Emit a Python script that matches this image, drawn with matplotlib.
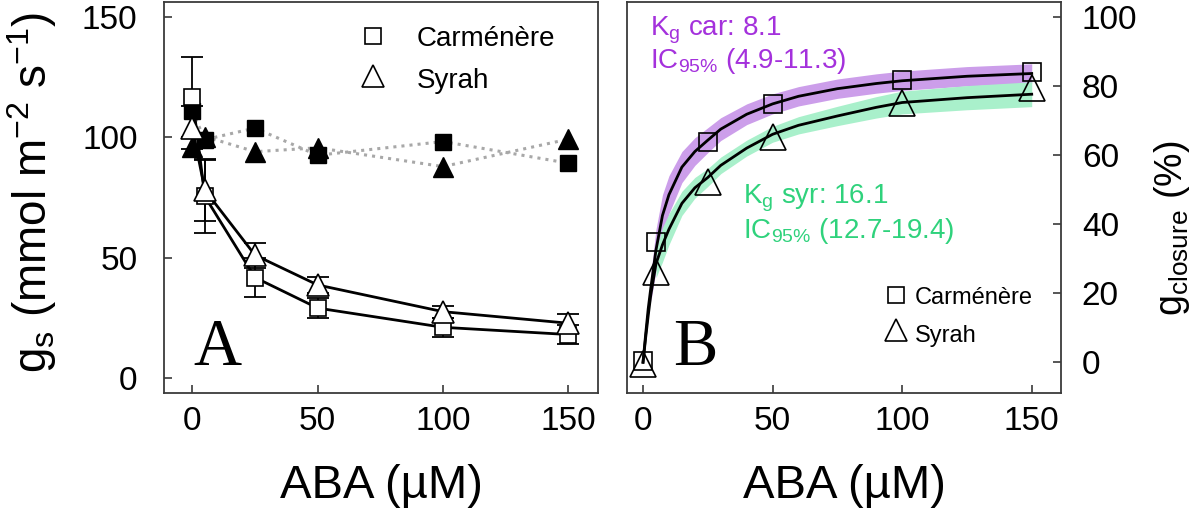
import matplotlib
matplotlib.use('Agg')
import matplotlib.pyplot as plt

plt.rcParams['font.family'] = ['Liberation Sans', 'DejaVu Sans']
plt.rcParams['mathtext.fontset'] = 'custom'
plt.rcParams['mathtext.rm'] = 'Liberation Sans'

# ABA doses (uM)
ABA = [0, 5, 25, 50, 100, 150]

# Panel A: stomatal conductance, ABA treated (open) and control (filled)
CAR_GS = [116.9, 75.4, 41.7, 29.0, 21.0, 18.0]
CAR_GS_ERR = [16.6, 15.3, 8.3, 4.0, 4.0, 4.0]
SYR_GS = [104.0, 78.0, 51.0, 38.6, 27.5, 22.7]
SYR_GS_ERR = [9.0, 13.0, 5.2, 3.4, 2.5, 3.9]
CAR_CTRL = [110.7, 99.0, 103.8, 92.5, 98.2, 89.2]
SYR_CTRL = [96.1, 100.3, 94.0, 95.6, 87.8, 99.2]

# Panel B: stomatal closure (%)
CAR_CLOSE = [0.5, 34.9, 63.8, 74.8, 81.7, 84.1]
SYR_CLOSE = [-0.5, 26.2, 52.3, 65.3, 75.0, 79.3]

# fitted curves
FIT_X = [0, 1, 2, 3, 5, 7.5, 10, 15, 20, 25, 30, 40, 50, 60, 75, 90, 100, 125, 150]
CAR_FIT = [0, 8, 15.5, 21.5, 32.5, 42.5, 48.5, 56.5, 61, 64.3, 67.5, 71.8, 74.8, 77, 79.2, 80.7, 81.5, 82.8, 83.6]
SYR_FIT = [0, 7, 13.5, 19.5, 28.5, 34, 38.5, 46, 50.5, 53.5, 57, 62, 66, 68.6, 71.3, 73.8, 75.2, 76.6, 77.6]
# half width of the 95% bands, starting at FIT_X[3] (car) and FIT_X[4] (syr)
CAR_BAND = [4, 6, 6, 5.5, 4.5, 4, 3.6, 3.3, 3, 2.9, 2.8, 2.8, 2.8, 2.8, 2.8, 2.8]
SYR_BAND = [4, 5, 4.5, 3.5, 3, 2.6, 2.4, 2.3, 2.3, 2.5, 2.8, 3.1, 3.3, 3.5, 3.6]

PURPLE = '#a431dc'
PURPLE_BAND = '#cc9eea'
GREEN = '#2fd27c'
GREEN_BAND = '#a9f0cb'
SPINE = '#3a3a3a'

W, H = 1194, 512
fig = plt.figure(figsize=(W / 100, H / 100), dpi=100)
ax_a = fig.add_axes([164 / W, 1 - 393 / H, 434 / W, 391 / H])
ax_b = fig.add_axes([626.7 / W, 1 - 393 / H, 434.3 / W, 391 / H])

for ax in (ax_a, ax_b):
    for s in ax.spines.values():
        s.set_color(SPINE)
        s.set_linewidth(1.3)
    ax.tick_params(direction='in', length=6, width=1.2, color=SPINE, labelsize=24)
    ax.tick_params(axis='x', pad=9)
    ax.set_xticks([0, 50, 100, 150])

# ---- Panel A ----
ax_a.plot(ABA, CAR_CTRL, ':', color='#a8a8a8', lw=2.2, zorder=1)
ax_a.plot(ABA, SYR_CTRL, ':', color='#a8a8a8', lw=2.2, zorder=1)
ax_a.plot(ABA, CAR_CTRL, 's', color='black', ms=11, zorder=3)
ax_a.plot(ABA, SYR_CTRL, '^', color='black', ms=15, zorder=3)

ax_a.errorbar(ABA, CAR_GS, yerr=CAR_GS_ERR, fmt='none', ecolor='black', elinewidth=1.3, capsize=8, capthick=1.3, zorder=2)
ax_a.errorbar(ABA, SYR_GS, yerr=SYR_GS_ERR, fmt='none', ecolor='black', elinewidth=1.3, capsize=8, capthick=1.3, zorder=2)
ax_a.plot(ABA, CAR_GS, '-', color='black', lw=2, zorder=2)
ax_a.plot(ABA, SYR_GS, '-', color='black', lw=2, zorder=2)
ax_a.plot(ABA, CAR_GS, 's', mfc='white', mec='black', mew=1.2, ms=11.5, zorder=4)
ax_a.plot(ABA, SYR_GS, '^', mfc='white', mec='black', mew=1.2, ms=16, zorder=4)

ax_a.set_xlim(-11.3, 161.8)
ax_a.set_ylim(-6.3, 156.2)
ax_a.set_yticks([0, 50, 100, 150])
ax_a.tick_params(axis='y', pad=19)

# legend A
ax_a.plot([0.481], [0.913], 's', mfc='white', mec='black', mew=1.2, ms=11, transform=ax_a.transAxes, clip_on=False)
ax_a.plot([0.481], [0.811], '^', mfc='white', mec='black', mew=1.2, ms=16, transform=ax_a.transAxes, clip_on=False)
ax_a.text(0.583, 0.888, 'Carménère', fontsize=20, transform=ax_a.transAxes, va='baseline')
ax_a.text(0.583, 0.780, 'Syrah', fontsize=20, transform=ax_a.transAxes, va='baseline')
ax_a.text(0.067, 0.072, 'A', fontsize=48, family='Liberation Serif', transform=ax_a.transAxes, va='baseline')

# ---- Panel B ----
ax_b.fill_between(FIT_X[3:], [y - d for y, d in zip(CAR_FIT[3:], CAR_BAND)],
                  [y + d for y, d in zip(CAR_FIT[3:], CAR_BAND)], color=PURPLE_BAND, lw=0, zorder=1)
ax_b.fill_between(FIT_X[4:], [y - d for y, d in zip(SYR_FIT[4:], SYR_BAND)],
                  [y + d for y, d in zip(SYR_FIT[4:], SYR_BAND)], color=GREEN_BAND, lw=0, zorder=1)
ax_b.plot(FIT_X, CAR_FIT, '-', color='black', lw=2, zorder=2)
ax_b.plot(FIT_X, SYR_FIT, '-', color='black', lw=2, zorder=2)
ax_b.plot(ABA, CAR_CLOSE, 's', mfc='none', mec='black', mew=1.2, ms=12.5, zorder=3)
ax_b.plot(ABA, SYR_CLOSE, '^', mfc='none', mec='black', mew=1.2, ms=19, zorder=3)

ax_b.set_xlim(-6.3, 161.3)
ax_b.set_ylim(-8.9, 104.3)
ax_b.yaxis.tick_right()
ax_b.set_yticks([0, 20, 40, 60, 80, 100])
ax_b.tick_params(axis='y', pad=15)

ax_b.text(0.054, 0.916, r'K$_{\mathregular{g}}$ car: 8.1', color=PURPLE, fontsize=20, transform=ax_b.transAxes, va='baseline')
ax_b.text(0.054, 0.830, r'IC$_{\mathregular{95\%}}$ (4.9-11.3)', color=PURPLE, fontsize=20, transform=ax_b.transAxes, va='baseline')
ax_b.text(0.268, 0.486, r'K$_{\mathregular{g}}$ syr: 16.1', color=GREEN, fontsize=20, transform=ax_b.transAxes, va='baseline')
ax_b.text(0.268, 0.396, r'IC$_{\mathregular{95\%}}$ (12.7-19.4)', color=GREEN, fontsize=20, transform=ax_b.transAxes, va='baseline')

# legend B
ax_b.plot([0.620], [0.251], 's', mfc='white', mec='black', mew=1.2, ms=11, transform=ax_b.transAxes, clip_on=False)
ax_b.plot([0.620], [0.161], '^', mfc='white', mec='black', mew=1.2, ms=16, transform=ax_b.transAxes, clip_on=False)
ax_b.text(0.664, 0.228, 'Carménère', fontsize=17, transform=ax_b.transAxes, va='baseline')
ax_b.text(0.664, 0.131, 'Syrah', fontsize=17, transform=ax_b.transAxes, va='baseline')
ax_b.text(0.107, 0.072, 'B', fontsize=48, family='Liberation Serif', transform=ax_b.transAxes, va='baseline')

# axis titles
fig.text(381 / W, 1 - 498 / H, 'ABA (µM)', fontsize=34, ha='center', va='baseline')
fig.text(844 / W, 1 - 498 / H, 'ABA (µM)', fontsize=34, ha='center', va='baseline')
fig.text(32 / W, 1 - 192 / H, r'g$_{\mathregular{s}}$ (mmol m$^{\mathregular{−2}}$ s$^{\mathregular{−1}}$)',
         fontsize=33, rotation=90, ha='center', va='center')
fig.text(1172 / W, 1 - 228 / H, r'g$_{\mathregular{closure}}$ (%)',
         fontsize=27, rotation=90, ha='center', va='center')

fig.savefig('out.png', dpi=100)
